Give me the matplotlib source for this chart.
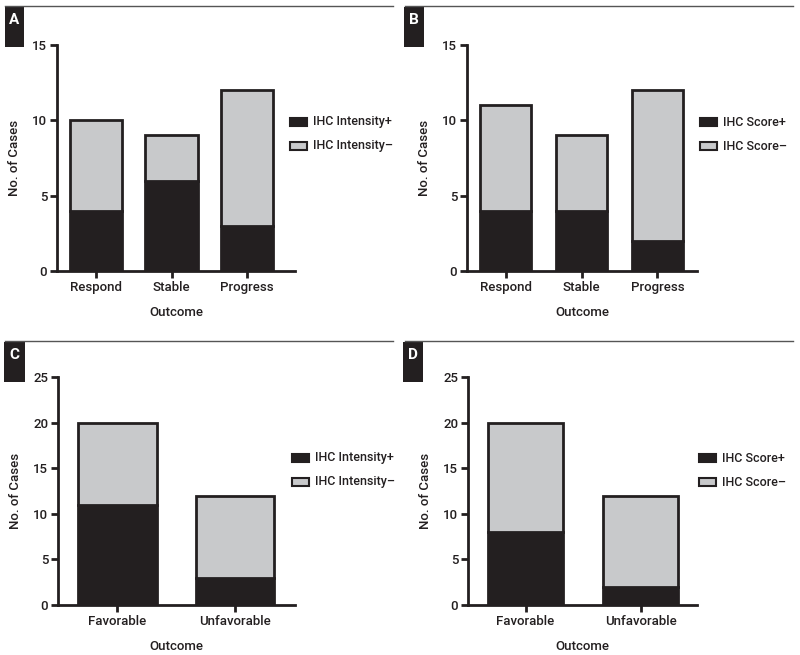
import matplotlib
matplotlib.use("Agg")
import matplotlib.pyplot as plt
from matplotlib.patches import Rectangle
from matplotlib.lines import Line2D

plt.rcParams['font.family'] = ['Roboto', 'Liberation Sans', 'DejaVu Sans']
plt.rcParams['font.weight'] = 'medium'

# ---- data ----
cats_ab = ["Respond", "Stable", "Progress"]
cats_cd = ["Favorable", "Unfavorable"]

a_pos = [4, 6, 3]
a_neg = [6, 3, 9]
b_pos = [4, 4, 2]
b_neg = [7, 5, 10]
c_pos = [11, 3]
c_neg = [9, 9]
d_pos = [8, 2]
d_neg = [12, 10]

leg_intensity = ["IHC Intensity+", "IHC Intensity\u2013"]
leg_score = ["IHC Score+", "IHC Score\u2013"]
panel_letters = ["A", "B", "C", "D"]

BLACK = "#231f20"
GRAY = "#c8c9cb"
W, H = 800, 655
FS = 9.5
LFS = 9
WT = "medium"

fig = plt.figure(figsize=(8, 6.55), dpi=100)
fig.patch.set_facecolor("white")


def fx(px):
    return px / W


def fy(py):
    return 1 - py / H


def panel(letter, cats, pos, neg, legs, ax_px, xlim, ylim, yticks, width,
          leg_px, line_px, box_px):
    x0, x1, ytop, ybot = ax_px
    ax = fig.add_axes([fx(x0), fy(ybot), fx(x1 - x0), fy(ytop) - fy(ybot)])
    xs = list(range(len(cats)))
    ax.bar(xs, pos, width=width, color=BLACK, edgecolor=BLACK, linewidth=2,
           zorder=3)
    ax.bar(xs, neg, bottom=pos, width=width, color=GRAY, edgecolor=BLACK,
           linewidth=2, zorder=3)
    ax.set_xlim(*xlim)
    ax.set_ylim(*ylim)
    ax.set_yticks(yticks)
    ax.set_xticks(xs)
    ax.set_xticklabels(cats)
    for s in ["top", "right"]:
        ax.spines[s].set_visible(False)
    for s in ["left", "bottom"]:
        ax.spines[s].set_linewidth(2)
        ax.spines[s].set_color(BLACK)
        ax.spines[s].set_zorder(4)
    ax.spines["left"].set_bounds(ylim[0], yticks[-1])
    ax.tick_params(axis="both", width=2, length=5, color=BLACK,
                   labelsize=FS, labelcolor=BLACK, pad=2)
    for t in ax.get_xticklabels() + ax.get_yticklabels():
        t.set_fontweight(WT)
    ax.set_xlabel("Outcome", fontsize=FS, labelpad=9, color=BLACK, fontweight=WT)
    ax.set_ylabel("No. of Cases", fontsize=FS, labelpad=8, color=BLACK, fontweight=WT)
    ax.patch.set_alpha(0)

    # legend
    lx, ly1, ly2 = leg_px
    for yy, col, lab in [(ly1, BLACK, legs[0]), (ly2, GRAY, legs[1])]:
        fig.patches.append(Rectangle((fx(lx), fy(yy + 4)), fx(17), fy(yy - 4) - fy(yy + 4),
                                     transform=fig.transFigure, facecolor=col,
                                     edgecolor=BLACK, linewidth=1.5))
        fig.text(fx(lx + 23), fy(yy), lab, fontsize=LFS, va="center", ha="left",
                 color=BLACK, fontweight=WT)

    # header line and letter box
    lxs, lxe, lyy = line_px
    fig.add_artist(Line2D([fx(lxs), fx(lxe)], [fy(lyy), fy(lyy)],
                          transform=fig.transFigure, color="#555555", linewidth=1))
    bx0, by0, bx1, by1 = box_px
    fig.patches.append(Rectangle((fx(bx0), fy(by1)), fx(bx1 - bx0), fy(by0) - fy(by1),
                                 transform=fig.transFigure, facecolor=BLACK,
                                 edgecolor="none"))
    fig.text(fx((bx0 + bx1) / 2), fy(by0 + 13), letter, color="white",
             fontsize=11, fontweight="bold", ha="center", va="center")
    return ax


panel(panel_letters[0], cats_ab, a_pos, a_neg, leg_intensity,
      (57, 295, 45, 271), (-0.517, 2.636), (0, 15), [0, 5, 10, 15], 0.69,
      (290, 122, 146), (5, 393, 6), (5, 7, 24, 47))
panel(panel_letters[1], cats_ab, b_pos, b_neg, leg_score,
      (467, 697, 45, 271), (-0.507, 2.52), (0, 15), [0, 5, 10, 15], 0.67,
      (700, 122, 146), (405, 793, 6), (404, 7, 424, 47))
panel(panel_letters[2], cats_cd, c_pos, c_neg, leg_intensity,
      (58, 295, 377, 605), (-0.506, 1.51), (0, 25), [0, 5, 10, 15, 20, 25], 0.67,
      (292, 458, 482), (5, 393, 341), (4, 342, 25, 382))
panel(panel_letters[3], cats_cd, d_pos, d_neg, leg_score,
      (468, 697, 377, 605), (-0.5, 1.49), (0, 25), [0, 5, 10, 15, 20, 25], 0.65,
      (699, 458, 482), (405, 793, 341), (403, 342, 423, 382))

fig.savefig("out.png", dpi=100, facecolor="white")
